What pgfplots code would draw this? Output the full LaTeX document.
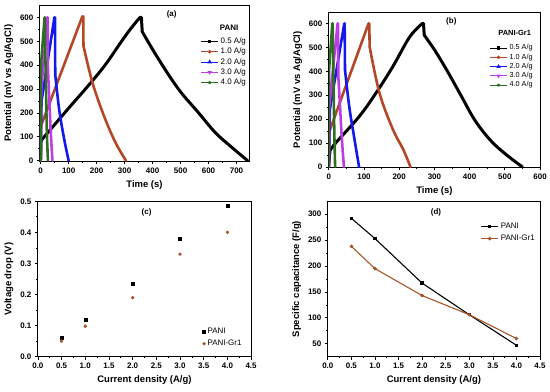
\documentclass[border=0pt]{standalone}
\usepackage{fontspec}
\setmainfont{Liberation Sans}
\usepackage{pgfplots}
\pgfplotsset{compat=1.18}

\definecolor{cbr}{RGB}{180,72,38}
\definecolor{cbl}{RGB}{20,25,235}
\definecolor{cmg}{RGB}{190,60,230}
\definecolor{cgr}{RGB}{45,110,35}
\definecolor{cdbr}{RGB}{165,85,40}

\pgfplotsset{
  panel/.style={
    scale only axis, anchor=south west,
    axis line style={line width=0.9pt},
    tick align=outside, xtick pos=bottom, ytick pos=left,
    major tick length=3pt, minor tick length=1.8pt,
    every tick/.style={line width=0.7pt, black},
    minor tick num=1,
    ticklabel style={font=\fontsize{8}{9}\selectfont\bfseries},
    label style={font=\fontsize{9.5}{11}\selectfont\bfseries},
    /pgf/number format/assume math mode=true,
    legend style={draw=none, fill=none, font=\fontsize{8}{9}\selectfont, row sep=-1pt, inner sep=1pt},
    legend cell align=left,
  },
  gcd/.style={line width=2.6pt, line join=round, line cap=round, forget plot},
  sm/.style={gcd, smooth, tension=0.6},
  onedec/.style={/pgf/number format/fixed, /pgf/number format/fixed zerofill, /pgf/number format/precision=1},
}

\begin{document}
\begin{tikzpicture}
\path (0pt,0pt) rectangle (550pt,393pt);

% ---------------- (a) ----------------
\begin{axis}[panel, at={(40pt,231pt)}, width=210pt, height=157pt,
  xmin=-3, xmax=745, ymin=-3, ymax=652,
  xtick={0,100,...,700}, ytick={0,100,...,600},
  xlabel={Time (s)}, ylabel={Potential (mV vs Ag/AgCl)},
  legend style={at={(rel axis cs:1,0.81)}, anchor=north east}]
% 0.5 A/g
\addplot[gcd, black] coordinates {(0,0)(2,85)};
\addplot[sm, black, line width=3pt] coordinates {(2,85)(36,132)(100,220)(167,310)(230,400)(285,493)(320,550)(355,600)};
\addplot[gcd, black, line width=3pt] coordinates {(355,600)(360,600)(363,540)};
\addplot[sm, black, line width=3pt] coordinates {(363,540)(422,424)(493,299)(564,201)(624,118)(683,56)(740,0)};
% 1.0 A/g
\addplot[gcd, cbr] coordinates {(0,0)(1,146)};
\addplot[sm, cbr] coordinates {(1,146)(75,375)(149,604)};
\addplot[gcd, cbr] coordinates {(149,604)(152,604)(153,480)};
\addplot[sm, cbr] coordinates {(153,480)(185,327)(226,188)(267,77)(305,0)};
% 2.0 A/g
\addplot[gcd, cbl] coordinates {(0,0)(3,250)(49,600)(51,600)(52,360)};
\addplot[sm, cbl] coordinates {(52,360)(66,215)(84,90)(100,0)};
% 3.0 A/g
\addplot[gcd, cmg] coordinates {(0,0)(2,300)(24,600)(25,600)(26,380)};
\addplot[sm, cmg] coordinates {(26,380)(31,250)(36,120)(42,0)};
% 4.0 A/g
\addplot[gcd, cgr] coordinates {(0,0)(1,400)(14,600)(15,600)(16,480)};
\addplot[sm, cgr] coordinates {(16,480)(19,300)(22,120)(26,0)};
\addlegendimage{black, line width=1pt, mark=square*, mark size=1.3pt}\addlegendentry{0.5 A/g}
\addlegendimage{cbr, line width=1pt, mark=*, mark size=1.3pt}\addlegendentry{1.0 A/g}
\addlegendimage{cbl, line width=1pt, mark=triangle*, mark size=1.6pt}\addlegendentry{2.0 A/g}
\addlegendimage{cmg, line width=1pt, mark=triangle*, mark options={rotate=180}, mark size=1.6pt}\addlegendentry{3.0 A/g}
\addlegendimage{cgr, line width=1pt, mark=star, mark size=1.6pt}\addlegendentry{4.0 A/g}
\node[font=\fontsize{8}{9}\selectfont\bfseries] at (rel axis cs:0.63,0.94) {(a)};
\node[font=\fontsize{8}{9}\selectfont\bfseries] at (rel axis cs:0.905,0.855) {PANI};
\end{axis}

% ---------------- (b) ----------------
\begin{axis}[panel, at={(330pt,225pt)}, width=212pt, height=156pt,
  xmin=0, xmax=600, ymin=-2, ymax=648,
  xtick={0,100,...,600}, ytick={0,100,...,600},
  xlabel={Time (s)}, ylabel={Potential (mV vs Ag/AgCl)},
  legend style={at={(rel axis cs:0.98,0.81)}, anchor=north east, font=\fontsize{7.3}{8}\selectfont, row sep=-1.5pt}]
% 0.5 A/g
\addplot[gcd, black] coordinates {(0,0)(4,70)};
\addplot[sm, black, line width=3pt] coordinates {(4,70)(20,101)(87,212)(134,309)(182,420)(230,544)(266,600)};
\addplot[gcd, black, line width=3pt] coordinates {(266,600)(269,600)(271,551)};
\addplot[sm, black, line width=3pt] coordinates {(271,551)(300,490)(335,405)(375,300)(415,195)(460,110)(505,50)(550,0)};
% 1.0 A/g
\addplot[gcd, cbr] coordinates {(0,0)(2,150)(113,600)(115,600)(116,503)};
\addplot[sm, cbr] coordinates {(116,503)(144,309)(182,157)(211,74)(232,0)};
% 2.0 A/g
\addplot[gcd, cbl] coordinates {(0,0)(3,240)(44,600)(45,600)(46,406)};
\addplot[sm, cbl] coordinates {(46,406)(58,253)(73,115)(86,0)};
% 3.0 A/g
\addplot[gcd, cmg] coordinates {(0,0)(1,250)(25,600)(26,600)(27,380)};
\addplot[sm, cmg] coordinates {(27,380)(32,250)(37,120)(43,0)};
% 4.0 A/g
\addplot[gcd, cgr] coordinates {(0,0)(0.5,400)(10,600)(11,600)(12,480)};
\addplot[sm, cgr] coordinates {(12,480)(14,300)(16,120)(18,0)};
\addlegendimage{black, line width=1pt, mark=square*, mark size=1.2pt}\addlegendentry{0.5 A/g}
\addlegendimage{cbr, line width=1pt, mark=*, mark size=1.2pt}\addlegendentry{1.0 A/g}
\addlegendimage{cbl, line width=1pt, mark=triangle*, mark size=1.5pt}\addlegendentry{2.0 A/g}
\addlegendimage{cmg, line width=1pt, mark=triangle*, mark options={rotate=180}, mark size=1.5pt}\addlegendentry{3.0 A/g}
\addlegendimage{cgr, line width=1pt, mark=star, mark size=1.5pt}\addlegendentry{4.0 A/g}
\node[font=\fontsize{8}{9}\selectfont\bfseries] at (rel axis cs:0.58,0.94) {(b)};
\node[font=\fontsize{7.5}{9}\selectfont\bfseries] at (rel axis cs:0.88,0.865) {PANI-Gr1};
\end{axis}

% ---------------- (c) ----------------
\begin{axis}[panel, at={(38pt,35pt)}, width=214pt, height=156pt,
  xmin=0, xmax=4.5, ymin=0, ymax=0.5,
  xtick={0,0.5,...,4.5}, ytick={0,0.1,...,0.5},
  xticklabel style={onedec}, yticklabel style={onedec},
  xlabel={Current density (A/g)}, ylabel={Voltage drop (V)},
  legend style={at={(rel axis cs:0.97,0.04)}, anchor=south east, row sep=1pt}]
\addplot[only marks, mark=square*, mark size=1.5pt, black] coordinates {(0.5,0.060)(1,0.118)(2,0.235)(3,0.378)(4,0.485)};
\addlegendentry{PANI}
\addplot[only marks, mark=*, mark size=1.5pt, cdbr] coordinates {(0.5,0.050)(1,0.098)(2,0.190)(3,0.330)(4,0.400)};
\addlegendentry{PANI-Gr1}
\node[font=\fontsize{8}{9}\selectfont\bfseries] at (rel axis cs:0.51,0.93) {(c)};
\end{axis}

% ---------------- (d) ----------------
\begin{axis}[panel, at={(329pt,35pt)}, width=213pt, height=156pt,
  xmin=0, xmax=4.5, ymin=25, ymax=325,
  xtick={0,0.5,...,4.5}, ytick={50,100,...,300},
  xticklabel style={onedec},
  xlabel={Current density (A/g)}, ylabel={Specific capacitance (F/g)},
  legend style={at={(rel axis cs:0.99,0.88)}, anchor=north east, row sep=1pt}]
\addplot[black, line width=1.1pt, mark=square*, mark size=1.2pt] coordinates {(0.5,292)(1,253)(2,167)(3,106)(4,47)};
\addlegendentry{PANI}
\addplot[cdbr, line width=1.1pt, mark=*, mark size=1.2pt] coordinates {(0.5,238)(1,195)(2,143)(3,106)(4,60)};
\addlegendentry{PANI-Gr1}
\node[font=\fontsize{8}{9}\selectfont\bfseries] at (rel axis cs:0.51,0.93) {(d)};
\end{axis}
\end{tikzpicture}
\end{document}
